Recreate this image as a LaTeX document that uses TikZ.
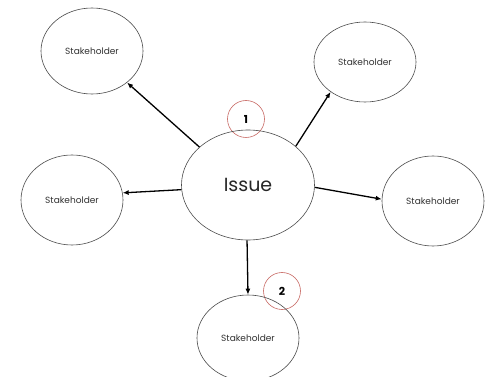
\documentclass[tikz,border=0pt]{standalone}
\usepackage{fontspec}
\setmainfont{Poppins}
\usetikzlibrary{arrows.meta,shapes.geometric}
\definecolor{ringred}{RGB}{200,105,100}
\tikzset{
  stake/.style={ellipse, draw=black!70, line width=0.6pt, minimum width=102pt, minimum height=86pt, inner sep=0pt, font=\fontsize{9}{10}\selectfont, text=black!80},
  conn/.style={-{Latex[length=6pt,width=5pt]}, line width=1.3pt, black},
  ring/.style={circle, draw=ringred, line width=0.6pt, minimum size=37pt, inner sep=0pt, font=\bfseries\fontsize{11}{12}\selectfont}
}
\begin{document}
\begin{tikzpicture}[x=1pt,y=-1pt]
\useasboundingbox[fill=white] (0,0) rectangle (491,377);
\node[ring] (r1) at (246,119) {1};
\node[ring] (r2) at (282,291) {2};
\node[ellipse, draw=black!70, line width=0.6pt, minimum width=133pt, minimum height=110pt, inner sep=0pt, font=\fontsize{19}{21}\selectfont, text=black!85] (issue) at (248,185) {Issue};
\node[stake] (tl) at (92,51) {Stakeholder};
\node[stake, minimum height=80pt] (tr) at (365,62) {Stakeholder};
\node[stake, minimum height=90pt] (l) at (72,200) {Stakeholder};
\node[stake, minimum height=90pt] (r) at (433,201) {Stakeholder};
\node[stake] (b) at (248,338) {Stakeholder};
\draw[conn] (issue.142) -- (tl.-42);
\draw[conn] (issue.39) -- (tr.-139);
\draw[conn] (issue.184) -- (l.8);
\draw[conn] (issue.-2) -- (r.178);
\draw[conn] (issue.-91) -- (b.north);
\end{tikzpicture}
\end{document}
